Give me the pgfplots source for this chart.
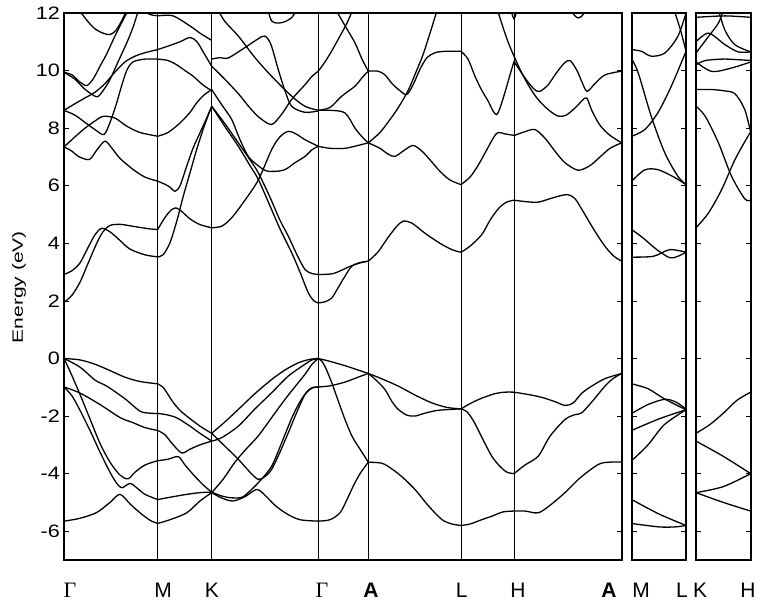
\documentclass[border=0pt]{standalone}
\usepackage{pgfplots}
\pgfplotsset{compat=1.18}
\usepackage{graphicx}
\usepackage{fontspec}
\setmainfont{Liberation Sans}
\newfontfamily\seriffont{Liberation Serif}
\newcommand\tl[1]{\scalebox{1.2}[1]{#1}}
\begin{document}
\begin{tikzpicture}
\path[use as bounding box] (0pt,0pt) rectangle (757pt,-606pt);
\pgfplotsset{
  bandax/.style={scale only axis, height=547pt, ymin=-7, ymax=12,
    ytick={-6,-4,-2,0,2,4,6,8,10,12}, tick align=inside, major tick length=5pt,
    axis line style={line width=1.7pt}, every tick/.style={black, line width=0.8pt},
    clip=true},
  b/.style={black, line width=1.3pt, smooth, tension=0.5, mark=none}
}
% ================= main panel =================
\begin{axis}[bandax, at={(64pt,-560pt)}, anchor=south west, width=557.7pt,
  xmin=64, xmax=621.7,
  xtick={157.7,211.7,318.3,368.3,461,514}, xticklabels={},
  xmajorgrids, major x grid style={black, line width=0.8pt},
  major x tick style={draw=none},
  yticklabels={\tl{-6},\tl{-4},\tl{-2},\tl{0},\tl{2},\tl{4},\tl{6},\tl{8},\tl{10},\tl{12}},
  yticklabel style={font=\fontsize{18}{18}\selectfont, inner sep=0pt},
  yticklabel shift=4pt]
% ---- valence: Gamma-M
\addplot[b] coordinates {(64,0)(80,-0.05)(95,-0.2)(110,-0.42)(125,-0.65)(140,-0.8)(157.7,-0.88)};
\addplot[b] coordinates {(64,0)(80,-0.3)(95,-0.75)(106.7,-0.96)(125,-1.4)(140,-1.83)(150,-1.9)(157.7,-1.91)};
\addplot[b] coordinates {(64,-0.99)(80,-1.2)(100,-1.6)(120,-2.05)(133,-2.23)(145,-2.4)(157.7,-2.5)};
\addplot[b] coordinates {(64,0)(72,-0.6)(80,-1.25)(90,-2.1)(100,-2.95)(110,-3.6)(120,-4.05)(128,-4.18)(135,-3.95)(145,-3.7)(157.7,-3.55)};
\addplot[b] coordinates {(64,-0.99)(72,-1.3)(80,-1.8)(90,-2.5)(100,-3.25)(110,-3.95)(117,-4.35)(122,-4.49)(130,-4.34)(137,-4.5)(145,-4.72)(157.7,-4.9)};
\addplot[b] coordinates {(64,-5.65)(80,-5.55)(96.7,-5.35)(110,-5.0)(120,-4.72)(130,-5.05)(140,-5.36)(150,-5.62)(157.7,-5.73)};
% ---- valence: M-K
\addplot[b] coordinates {(157.7,-0.88)(163,-1.0)(168,-1.25)(173.3,-1.53)(180,-1.8)(186.7,-2.0)(200,-2.35)(211.7,-2.6)};
\addplot[b] coordinates {(157.7,-1.91)(166,-1.95)(176.7,-2.06)(190,-2.35)(200,-2.6)(211.7,-2.87)};
\addplot[b] coordinates {(157.7,-2.5)(165,-2.65)(172,-2.95)(181.7,-3.28)(190,-3.15)(200,-3.0)(211.7,-2.87)};
\addplot[b] coordinates {(157.7,-3.55)(168,-3.5)(178.3,-3.41)(185,-3.7)(195,-4.1)(205,-4.45)(211.7,-4.64)};
\addplot[b] coordinates {(157.7,-4.9)(170,-4.82)(186.7,-4.72)(200,-4.66)(211.7,-4.64)};
\addplot[b] coordinates {(157.7,-5.73)(170,-5.6)(186.7,-5.36)(200,-4.95)(211.7,-4.66)};
% ---- valence: K-Gamma
\addplot[b] coordinates {(211.7,-2.6)(225,-2.2)(238.3,-1.77)(255,-1.22)(271.7,-0.73)(285,-0.4)(298.3,-0.15)(310,-0.03)(318.3,0)};
\addplot[b] coordinates {(211.7,-2.87)(221.7,-2.75)(238.3,-2.35)(255,-1.75)(271.7,-1.19)(288,-0.62)(305,-0.2)(312,-0.05)(318.3,0)};
\addplot[b] coordinates {(211.7,-2.6)(225,-3.05)(238.3,-3.5)(250,-3.95)(258.3,-4.2)(265,-4.1)(271.7,-3.85)(280,-3.25)(288.3,-2.58)(297,-1.85)(305,-1.25)(311.7,-1.02)(318.3,-0.99)};
\addplot[b] coordinates {(211.7,-4.64)(222,-4.78)(231.7,-4.84)(242,-4.82)(250,-4.6)(260,-4.25)(271.7,-3.74)(282,-2.9)(292,-2.05)(300,-1.5)(306,-1.2)(312,-1.03)(318.3,-0.99)};
\addplot[b] coordinates {(211.7,-4.66)(222,-4.85)(233,-4.95)(245,-4.8)(256.7,-4.55)(265,-4.75)(275,-5.1)(287,-5.4)(300,-5.6)(318.3,-5.65)};
\addplot[b] coordinates {(211.7,-4.66)(223,-4.2)(235,-3.6)(246,-3.15)(258,-2.7)(271.7,-2.05)(285,-1.42)(295,-0.98)(305,-0.55)(312,-0.2)(318.3,0)};
% ---- valence: Gamma-A
\addplot[b] coordinates {(318.3,0)(330,-0.1)(345,-0.25)(358,-0.4)(368.3,-0.52)};
\addplot[b] coordinates {(318.3,-0.99)(330,-0.95)(345,-0.82)(358,-0.65)(368.3,-0.52)};
\addplot[b] coordinates {(318.3,0)(322,-0.1)(326,-0.35)(331.7,-0.84)(338,-1.45)(345,-2.12)(352,-2.7)(360,-3.15)(368.3,-3.6)};
\addplot[b] coordinates {(318.3,-5.65)(330,-5.6)(340,-5.36)(347,-4.9)(353.3,-4.43)(360,-4.0)(368.3,-3.6)};
% ---- valence: A-L
\addplot[b] coordinates {(368.3,-0.52)(380,-0.68)(398.3,-0.96)(415,-1.27)(431.7,-1.54)(447,-1.7)(461,-1.75)};
\addplot[b] coordinates {(368.3,-0.52)(376,-0.75)(385,-1.08)(392,-1.5)(398.3,-1.77)(407,-1.97)(415,-2.0)(425,-1.9)(438.3,-1.8)(461,-1.75)};
\addplot[b] coordinates {(368.3,-3.6)(378,-3.62)(385,-3.68)(400,-4.05)(415,-4.55)(428,-5.1)(441.7,-5.59)(452,-5.75)(461,-5.8)};
% ---- valence: L-H
\addplot[b] coordinates {(461,-1.75)(471,-1.55)(481.7,-1.38)(495,-1.22)(505,-1.17)(514,-1.17)};
\addplot[b] coordinates {(461,-1.75)(467,-1.85)(474,-2.2)(482,-2.75)(491.7,-3.39)(500,-3.75)(507,-3.95)(514,-4.0)};
\addplot[b] coordinates {(461,-5.8)(470,-5.75)(481.7,-5.6)(491.7,-5.48)(503,-5.33)(514,-5.3)};
% ---- valence: H-A
\addplot[b] coordinates {(514,-1.17)(528,-1.25)(541.7,-1.35)(555,-1.5)(565,-1.63)(573,-1.55)(582,-1.2)(591.7,-0.96)(605,-0.7)(621.7,-0.52)};
\addplot[b] coordinates {(514,-4.0)(525,-3.7)(538.3,-3.39)(550,-2.7)(565,-2.12)(575,-1.95)(581.7,-1.89)(592,-1.5)(605,-0.96)(613,-0.7)(621.7,-0.52)};
\addplot[b] coordinates {(514,-5.3)(525,-5.3)(538.3,-5.36)(550,-5.1)(565,-4.66)(580,-4.15)(598.3,-3.68)(610,-3.6)(621.7,-3.6)};
% ---- conduction: Gamma-M
\addplot[b] coordinates {(64,1.95)(72,2.2)(80,2.65)(88,3.3)(96.7,4.0)(103,4.4)(110,4.62)(120,4.66)(135,4.58)(150,4.5)(157.7,4.48)};
\addplot[b] coordinates {(64,2.92)(72,3.05)(80,3.32)(88,3.85)(95,4.3)(101.7,4.52)(110,4.4)(120,4.1)(130,3.8)(145,3.6)(157.7,3.53)};
\addplot[b] coordinates {(64,7.35)(72,7.2)(78.3,7.02)(89.3,6.91)(97,7.25)(105,7.55)(112,7.3)(120,6.95)(133.3,6.56)(145,6.3)(157.7,6.16)};
\addplot[b] coordinates {(64,7.35)(75,7.7)(85,8.0)(95,8.25)(103.3,8.41)(115,8.35)(126.7,8.07)(140,7.85)(157.7,7.72)};
\addplot[b] coordinates {(64,8.62)(75,8.45)(85,8.2)(95,7.95)(104,7.78)(110,8.2)(116,8.8)(121,9.4)(126.7,10.0)(133,10.3)(145,10.4)(157.7,10.4)};
\addplot[b] coordinates {(64,8.62)(75,8.85)(85,9.05)(95,9.25)(105,9.55)(115,9.95)(125,10.3)(135,10.5)(145,10.62)(157.7,10.73)};
\addplot[b] coordinates {(64,9.94)(72,9.85)(80,9.6)(86.7,9.48)(93,9.7)(100,10.15)(107,10.6)(113.3,11.08)(120,11.55)(126.7,12.0)(130,12.2)};
\addplot[b] coordinates {(64,9.94)(75,9.7)(85,9.35)(96.7,9.09)(103,9.3)(110,9.69)(118,10.3)(126.7,10.96)(133,11.5)(138,12.05)};
\addplot[b] coordinates {(75,12.2)(80,12.05)(88,11.7)(95,11.45)(103,11.3)(110,11.25)(116,11.4)(122,11.75)(126,12.05)};
\addplot[b] coordinates {(142,12.1)(150,11.95)(157.7,11.9)};
% ---- conduction: M-K
\addplot[b] coordinates {(157.7,3.53)(163,3.6)(170,4.02)(177,4.8)(183.3,5.64)(190,6.45)(196.7,7.26)(204,8.05)(211.7,8.76)};
\addplot[b] coordinates {(157.7,4.48)(165,4.9)(171,5.15)(176,5.23)(182,5.1)(190,4.85)(200,4.65)(211.7,4.54)};
\addplot[b] coordinates {(157.7,6.16)(165,6.05)(170,5.95)(175,5.81)(180,6.0)(186.7,6.68)(193,7.3)(200,7.84)(206,8.3)(211.7,8.76)};
\addplot[b] coordinates {(157.7,7.72)(168,7.85)(180,8.18)(190,8.55)(196.7,8.88)(204,9.15)(211.7,9.34)};
\addplot[b] coordinates {(157.7,10.4)(168,10.35)(176.7,10.2)(185,10.0)(193.3,9.8)(203,9.5)(211.7,9.3)};
\addplot[b] coordinates {(157.7,10.73)(168,10.85)(180,11.0)(190,11.15)(197,11.0)(204,10.6)(211.7,10.15)};
\addplot[b] coordinates {(157.7,11.9)(173,11.9)(190,11.55)(200,11.3)(207,11.15)(211.7,11.05)};
% ---- conduction: K-Gamma
\addplot[b] coordinates {(211.7,8.76)(225,8.15)(238.3,7.49)(250,6.9)(258.3,6.45)(270,5.6)(280,4.8)(288.3,4.25)(297,3.6)(305,3.09)(312,2.95)(318.3,2.92)};
\addplot[b] coordinates {(211.7,8.76)(225,8.05)(238.3,7.37)(250,6.7)(258.3,6.22)(270,5.3)(280,4.5)(291.7,3.67)(300,3.0)(308.3,2.28)(314,2.0)(318.3,1.93)};
\addplot[b] coordinates {(211.7,4.54)(222,4.6)(232,4.9)(245,5.5)(258.3,6.2)(271.7,7.26)(280,7.7)(288.3,7.89)(296,7.8)(305,7.6)(318.3,7.37)};
\addplot[b] coordinates {(211.7,9.34)(222,8.8)(231.7,8.3)(240,7.6)(248.3,7.02)(258,6.7)(266,6.52)(275,6.5)(285,6.56)(295,6.8)(305,7.02)(312,7.25)(318.3,7.37)};
\addplot[b] coordinates {(211.7,10.15)(222,9.8)(238.3,9.2)(250,8.7)(260,8.35)(271.7,8.13)(282,8.5)(291.7,9.0)(305,9.51)(312,9.8)(318.3,9.98)};
\addplot[b] coordinates {(218,12.1)(225,11.7)(238.3,11.2)(255,10.45)(271.7,9.8)(291.7,9.11)(305,8.76)(318.3,8.62)};
\addplot[b] coordinates {(211.7,10.4)(220,10.45)(228.3,10.44)(245,10.8)(258,11.1)(265,11.2)(271,10.9)(278.3,10.03)(285,9.3)(291.7,8.76)(305,8.55)(318.3,8.6)};
\addplot[b] coordinates {(268,12.1)(271.7,11.72)(278,11.65)(285,11.7)(292,11.85)(296,12.1)};
% ---- conduction: Gamma-A
\addplot[b] coordinates {(318.3,2.92)(333.3,2.95)(350,3.2)(360,3.32)(368.3,3.38)};
\addplot[b] coordinates {(318.3,1.93)(325,1.97)(331.7,2.1)(338,2.45)(345,2.86)(351.7,3.2)(360,3.33)(368.3,3.38)};
\addplot[b] coordinates {(318.3,7.37)(330,7.3)(345,7.3)(358,7.4)(368.3,7.49)};
\addplot[b] coordinates {(318.3,8.62)(330,8.62)(345,8.53)(355,8.0)(362,7.7)(368.3,7.49)};
\addplot[b] coordinates {(318.3,8.62)(330,8.72)(341.7,9.11)(355,9.46)(362,9.75)(368.3,9.98)};
\addplot[b] coordinates {(318.3,9.98)(325,10.3)(332,10.7)(340,11.2)(347,11.65)(352,12.05)};
\addplot[b] coordinates {(336,12.1)(346,11.5)(355,10.96)(362,10.4)(368.3,9.98)};
% ---- conduction: A-L
\addplot[b] coordinates {(368.3,3.38)(378,3.7)(388,4.2)(397,4.6)(403.3,4.77)(412,4.7)(425,4.35)(440,4.0)(452,3.78)(461,3.69)};
\addplot[b] coordinates {(368.3,7.49)(380,7.3)(388,7.1)(395,7.02)(405,7.25)(413.3,7.4)(422,7.2)(430,6.9)(440,6.5)(450,6.2)(461,6.04)};
\addplot[b] coordinates {(368.3,7.49)(380,7.85)(390,8.3)(398,8.7)(408,9.3)(416,9.95)(423,10.55)(430,11.3)(436.7,12.05)};
\addplot[b] coordinates {(368.3,9.98)(378,9.98)(385,9.85)(392,9.55)(400,9.3)(406.7,9.17)(413,9.5)(420,10.05)(427,10.45)(435,10.62)(445,10.67)(461,10.67)};
% ---- conduction: L-H
\addplot[b] coordinates {(461,10.67)(468,10.4)(475,9.8)(482,9.3)(488,8.95)(493,8.6)(496.7,8.47)(500,8.7)(505,9.25)(510,9.85)(514,10.32)};
\addplot[b] coordinates {(461,6.04)(470,6.3)(478,6.7)(486,7.2)(494,7.7)(498.3,7.85)(505,7.8)(514,7.75)};
\addplot[b] coordinates {(461,3.69)(470,3.9)(481.7,4.3)(490,4.8)(498.3,5.2)(506,5.42)(514,5.5)};
% ---- conduction: H-A
\addplot[b] coordinates {(498,12.05)(503,11.5)(508,11.0)(514,10.5)(522,9.9)(530,9.4)(538,9.0)(548,8.65)(558,8.42)(566,8.45)(575,8.7)(582,8.95)(586.7,9.05)(592,8.6)(600,8.1)(610,7.75)(621.7,7.49)};
\addplot[b] coordinates {(514,5.5)(525,5.45)(538,5.43)(550,5.55)(560,5.65)(568,5.69)(575,5.55)(582,5.17)(590,4.7)(598,4.25)(606,3.85)(614,3.55)(621.7,3.38)};
\addplot[b] coordinates {(514,7.74)(525,7.88)(535,7.95)(545,7.65)(555,7.2)(565,6.8)(578,6.54)(590,6.7)(600,7.0)(610,7.3)(621.7,7.49)};
\addplot[b] coordinates {(514,10.32)(520,10.0)(528,9.6)(535,9.33)(540,9.28)(548,9.5)(556,9.9)(564,10.25)(570,10.35)(577,10.0)(582,9.6)(587,9.28)(595,9.55)(605,9.85)(621.7,9.98)};
\addplot[b] coordinates {(571,12.1)(575,11.9)(578.3,11.83)(582,11.9)(586,12.1)};
\addplot[b] coordinates {(511,12.1)(514,11.8)(517,12.1)};
\end{axis}
% ================= panel M-L =================
\begin{axis}[bandax, at={(631.7pt,-560pt)}, anchor=south west, width=54.3pt,
  xmin=0, xmax=1, xtick=\empty, yticklabels={}]
\addplot[b] coordinates {(0,-0.88)(0.3,-1.05)(0.6,-1.4)(1,-1.78)};
\addplot[b] coordinates {(0,-1.91)(0.3,-1.6)(0.6,-1.42)(0.8,-1.5)(1,-1.75)};
\addplot[b] coordinates {(0,-2.5)(0.5,-2.1)(1,-1.78)};
\addplot[b] coordinates {(0,-3.55)(0.3,-3.0)(0.6,-2.3)(1,-1.78)};
\addplot[b] coordinates {(0,-4.9)(0.5,-5.4)(1,-5.8)};
\addplot[b] coordinates {(0,-5.73)(0.5,-5.85)(0.8,-5.85)(1,-5.8)};
\addplot[b] coordinates {(0,3.52)(0.4,3.55)(0.7,3.78)(1,3.69)};
\addplot[b] coordinates {(0,4.48)(0.2,4.2)(0.45,3.8)(0.7,3.5)(0.85,3.55)(1,3.69)};
\addplot[b] coordinates {(0,6.16)(0.24,6.55)(0.48,6.56)(0.78,6.3)(1,6.04)};
\addplot[b] coordinates {(0,7.72)(0.24,7.95)(0.48,8.53)(0.73,9.46)(1,10.67)};
\addplot[b] coordinates {(0,10.4)(0.12,9.92)(0.36,8.41)(0.61,7.14)(0.85,6.33)(1,6.04)};
\addplot[b] coordinates {(0,10.73)(0.18,10.67)(0.36,10.5)(0.61,10.61)(0.85,11.19)(1,12.0)};
\addplot[b] coordinates {(0.79,12.05)(0.9,11.4)(1,10.67)};
\end{axis}
% ================= panel K-H =================
\begin{axis}[bandax, at={(696pt,-560pt)}, anchor=south west, width=54.7pt,
  xmin=0, xmax=1, xtick=\empty, yticklabels={}]
\addplot[b] coordinates {(0,-2.6)(0.25,-2.3)(0.5,-1.9)(0.75,-1.45)(1,-1.17)};
\addplot[b] coordinates {(0,-2.87)(0.5,-3.4)(1,-4.0)};
\addplot[b] coordinates {(0,-4.66)(0.5,-4.45)(1,-4.0)};
\addplot[b] coordinates {(0,-4.66)(0.5,-5.0)(1,-5.3)};
\addplot[b] coordinates {(0,4.54)(0.23,5.06)(0.47,5.87)(0.71,6.9)(0.95,7.72)(1,7.85)};
\addplot[b] coordinates {(0,8.76)(0.17,8.41)(0.41,7.49)(0.65,6.33)(0.89,5.55)(1,5.5)};
\addplot[b] coordinates {(0,9.34)(0.3,9.34)(0.5,9.3)(0.71,9.2)(0.89,8.65)(1,7.85)};
\addplot[b] coordinates {(0,10.2)(0.17,10.35)(0.5,10.4)(0.75,10.38)(1,10.35)};
\addplot[b] coordinates {(0,10.3)(0.29,9.97)(0.65,10.09)(1,10.3)};
\addplot[b] coordinates {(0,10.61)(0.23,11.19)(0.41,11.65)(0.5,12.1)};
\addplot[b] coordinates {(0,11.0)(0.23,11.3)(0.53,10.9)(0.77,10.65)(1,10.65)};
\addplot[b] coordinates {(0,11.85)(0.53,11.9)(1,11.85)};
\addplot[b] coordinates {(0.41,12.1)(0.53,11.4)(0.71,10.9)(1,10.65)};
\end{axis}
% ================= labels =================
\node[rotate=90, font=\fontsize{15}{15}\selectfont] at (19pt,-287pt) {\scalebox{1.4}[1]{Energy (eV)}};
\begin{scope}[every node/.style={font=\fontsize{21}{21}\selectfont, anchor=base, inner sep=0pt}]
\node at (70pt,-597pt) {\seriffont\fontsize{22}{22}\selectfont Γ};
\node at (163pt,-597pt) {M};
\node at (212pt,-597pt) {K};
\node at (322pt,-597pt) {\seriffont\fontsize{22}{22}\selectfont Γ};
\node at (371pt,-597pt) {\bfseries A};
\node at (461.7pt,-597pt) {L};
\node at (518pt,-597pt) {H};
\node at (609pt,-597pt) {\bfseries A};
\node at (641pt,-597pt) {M};
\node at (682pt,-597pt) {L};
\node at (700pt,-597pt) {K};
\node at (748pt,-597pt) {H};
\end{scope}
\end{tikzpicture}
\end{document}
